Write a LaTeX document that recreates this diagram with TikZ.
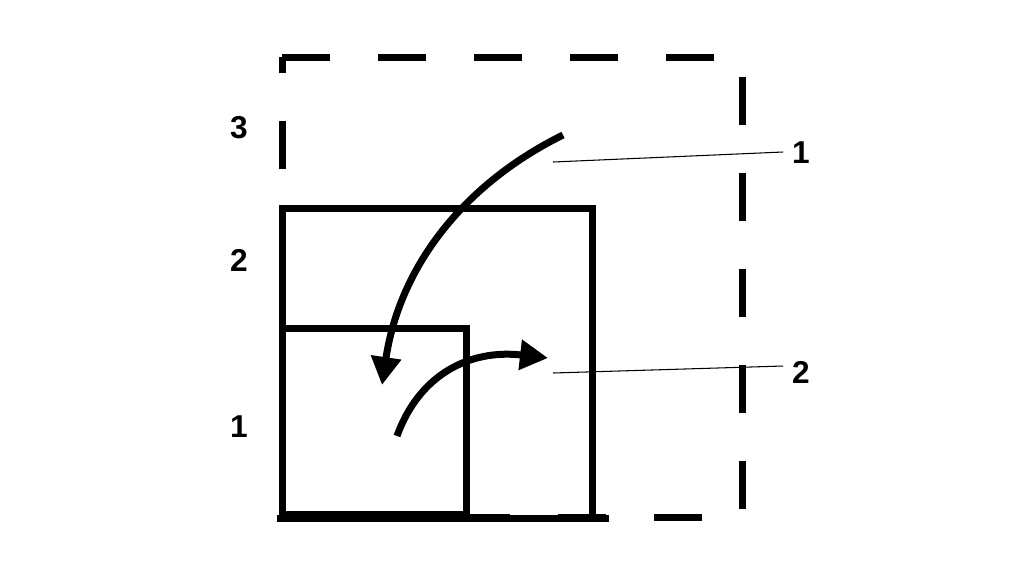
\documentclass[tikz,border=0pt]{standalone}
\usepackage{fontspec}
\setsansfont{Liberation Sans}
\usetikzlibrary{arrows.meta}

\tikzset{
  box/.style={line width=0.14cm},
  bend arrow/.style={line width=0.14cm,-{Triangle[length=0.56cm,width=0.58cm]}},
  leader/.style={line width=0.6pt},
  tag/.style={font=\sffamily\bfseries\fontsize{18}{20}\selectfont,inner sep=5pt}
}

\begin{document}
\begin{tikzpicture}[x=0.02cm,y=-0.02cm]
    \useasboundingbox[fill=white] (0,0) rectangle (1024,576);
    % squares
    \draw[box,dash pattern=on 0.96cm off 0.96cm] (282,57) -- (742,57) -- (742,517) -- (282,517) -- cycle;
    \draw[box] (282,208) rectangle (592,518);
    \draw[box] (282,328) rectangle (466,514);
    \draw[box] (277,518) -- (609,518);
    % side labels
    \node[tag] (lvl3) at (239,128) {3};
    \node[tag] (lvl2) at (239,260) {2};
    \node[tag] (lvl1) at (239,427) {1};
    % arrows
    \coordinate (outA) at (563,135);
    \coordinate (inA) at (382,385);
    \draw[bend arrow] (outA) .. controls (460,186) and (399,270) .. (inA);
    \coordinate (outB) at (397,436);
    \coordinate (inB) at (548,358);
    \draw[bend arrow] (outB) .. controls (419,375) and (469,349) .. (inB);
    % callouts
    \node[tag] (step1) at (801,153) {1};
    \node[tag] (step2) at (801,372) {2};
    \coordinate (tip1) at (553,162);
    \coordinate (tip2) at (553,373);
    \draw[leader] (tip1) -- ([yshift=0.02cm]step1.west);
    \draw[leader] (tip2) -- ([yshift=0.12cm]step2.west);
\end{tikzpicture}
\end{document}
